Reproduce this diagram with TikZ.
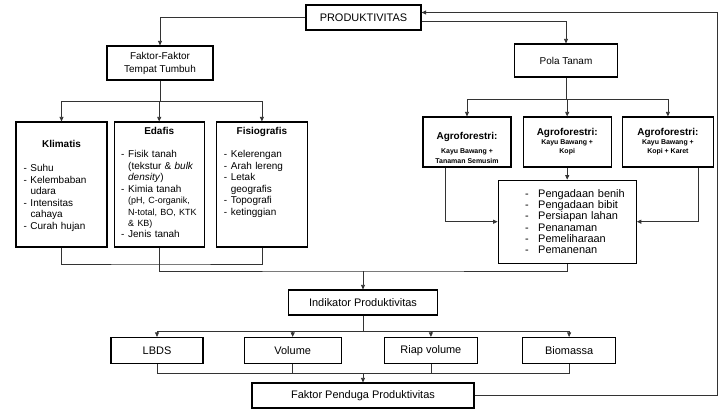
\documentclass[tikz,border=0pt]{standalone}
\usepackage{fontspec}
\setmainfont{Liberation Sans}
\usetikzlibrary{arrows.meta, positioning, calc}

\newcommand{\dashitem}{\makebox[7bp][l]{-}}
\newcommand{\dashgap}{\hspace*{7bp}}
\newcommand{\kegdash}{\hspace*{16bp}\makebox[13bp][l]{-}}
\newcommand{\boxtitle}[1]{\makebox[76bp]{\textbf{#1}}}

\begin{document}
\begin{tikzpicture}[
  x = 1bp, y = -1bp,
  box/.style    = {rectangle, draw=black, line width=1.2bp, inner sep=2bp,
                   align=center, font=\fontsize{11}{12.5}\selectfont},
  fbox/.style   = {box, minimum width=90bp, minimum height=125bp},
  agro/.style   = {box, minimum width=88bp, minimum height=50bp,
                   font=\fontsize{7}{9}\selectfont\bfseries},
  ind/.style    = {box, minimum width=93bp, minimum height=26bp},
  list/.style   = {inner sep=0pt, text width=76bp, align=left,
                   font=\fontsize{10}{11.5}\selectfont},
  line/.style   = {draw=black!80, line width=0.7bp},
  arr/.style    = {line, -{Triangle[length=4.5bp, width=4bp]}}
]
\useasboundingbox (0,0) rectangle (723,413);

% top row
\node[box, minimum width=115bp, minimum height=25bp] (prod) at (363.5,17.5) {PRODUKTIVITAS};
\node[box, minimum width=106bp, minimum height=34bp,
      font=\fontsize{10}{13}\selectfont] (ftt) at (160,63) {Faktor-Faktor\\Tempat Tumbuh};
\node[box, minimum width=103bp, minimum height=33bp,
      font=\fontsize{10}{12}\selectfont] (pola) at (566,60.5) {Pola Tanam};

% faktor tempat tumbuh
\node[fbox, minimum width=91bp] (klim) at (61.5,184.5) {};
\node[fbox, right=6bp of klim] (edaf) {};
\node[fbox, minimum width=91bp, right=11bp of edaf] (fisio) {};

\node[list, below=19bp of klim.north] (klimtxt) {%
  \boxtitle{Klimatis}\\[12.5bp]
  \dashitem Suhu\\
  \dashitem Kelembaban\\
  \dashgap udara\\
  \dashitem Intensitas\\
  \dashgap cahaya\\
  \dashitem Curah hujan};
\node[list, below=6bp of edaf.north] (edaftxt) {%
  \boxtitle{Edafis}\\[11.5bp]
  \dashitem Fisik tanah\\
  \dashgap (tekstur \& \textit{bulk}\\
  \dashgap \textit{density})\\
  \dashitem Kimia tanah\\
  \dashgap {\fontsize{9}{11.5}\selectfont (pH, C-organik,}\\
  \dashgap {\fontsize{9}{11.5}\selectfont N-total, BO, KTK}\\
  \dashgap {\fontsize{9}{11.5}\selectfont \& KB)}\\
  \dashitem Jenis tanah};
\node[list, below=6bp of fisio.north] (fisiotxt) {%
  \boxtitle{Fisiografis}\\[11.5bp]
  \dashitem Kelerengan\\
  \dashitem Arah lereng\\
  \dashitem Letak\\
  \dashgap geografis\\
  \dashitem Topografi\\
  \dashitem ketinggian};

% pola tanam
\node[agro] (agro1) at (467,142)
  {{\fontsize{10}{12}\selectfont\rule{0pt}{19bp}Agroforestri:}\\[6bp]
   Kayu Bawang +\\[1bp] Tanaman Semusim};
\node[agro, right=11bp of agro1] (agro2)
  {{\fontsize{10}{12}\selectfont Agroforestri:}\\ Kayu Bawang +\\ Kopi};
\node[agro, minimum width=91bp, right=10bp of agro2] (agro3)
  {{\fontsize{10}{12}\selectfont Agroforestri:}\\ Kayu Bawang +\\ Kopi + Karet};
\node[box, minimum width=138bp, minimum height=83bp, inner xsep=11bp,
      text width=116bp, align=left, font=\fontsize{11}{11.3}\selectfont,
      below=12bp of agro2] (keg)
  {\kegdash Pengadaan benih\\ \kegdash Pengadaan bibit\\ \kegdash Persiapan lahan\\
   \kegdash Penanaman\\ \kegdash Pemeliharaan\\ \kegdash Pemanenan};

% indikator
\node[box, minimum width=149bp, minimum height=25bp] (ind) at (363,302.5) {Indikator Produktivitas};
\node[ind, minimum width=92bp] (lbds) at (157,350.5) {LBDS};
\node[ind, minimum width=97bp, right=40bp of lbds] (vol) {Volume};
\node[ind, right=42bp of vol] (riap) {Riap volume};
\node[ind, right=44bp of riap] (bio) {Biomassa};
\node[box, minimum width=222bp, minimum height=25bp] (fpp) at (363,395.5) {Faktor Penduga Produktivitas};

% junctions
\coordinate (fttj)  at (160,101);
\coordinate (polaj) at (566,99);
\coordinate (mj1)   at (160,264);
\coordinate (mj2)   at (363,271);
\coordinate (indj)  at (363,331);
\coordinate (mj3)   at (363,373);
\coordinate (fb)    at (717,12.5);

\draw[arr] (prod.west) -| (ftt);
\draw[arr] ([yshift=-3.5bp]prod.east) -| (pola);
\draw[arr] (fpp.east) -| (fb) -- (fb -| prod.east);

\draw[line] (ftt) -- (fttj);
\draw[line] (fttj -| klim) -- (fttj -| fisio);
\foreach \n in {klim, edaf, fisio}
  \draw[arr] (fttj -| \n) -- (\n);

\draw[line] (pola) -- (polaj);
\draw[line] (polaj -| agro1) -- (polaj -| agro3);
\foreach \n in {agro1, agro2, agro3}
  \draw[arr] (polaj -| \n) -- (\n);

\draw[arr] (agro2) -- (keg);
\draw[arr] ([xshift=-22bp]agro1.south) |- (keg.west);
\draw[arr] ([xshift=30bp]agro3.south) |- (keg.east);

\draw[line] (klim.south) |- (mj1) -| (fisio.south);
\draw[line] (edaf.south) |- (mj2) -| (keg.south);
\draw[arr] (mj2) -- (ind);

\draw[line] (ind) -- (indj);
\draw[line] (indj -| lbds) -- (indj -| bio);
\foreach \n in {lbds, vol, riap, bio}
  \draw[arr] (indj -| \n) -- (\n);

\draw[line] (lbds.south) |- (mj3) -| (bio.south);
\draw[line] (vol.south) -- (vol.south |- mj3);
\draw[line] (riap.south) -- (riap.south |- mj3);
\draw[arr] (mj3) -- (fpp);
\end{tikzpicture}
\end{document}
